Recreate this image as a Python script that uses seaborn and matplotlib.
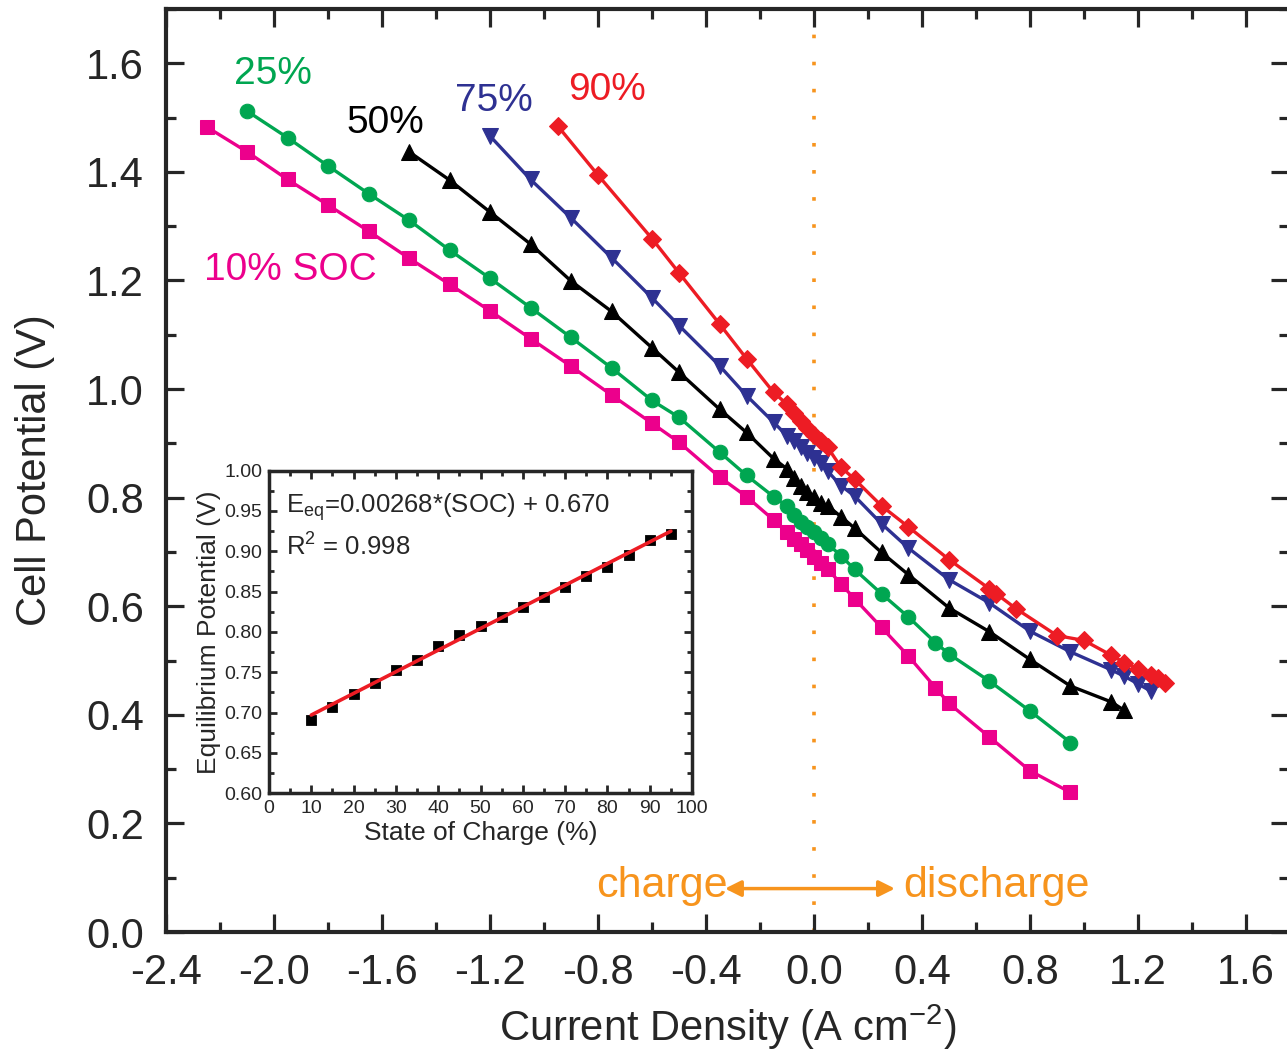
import matplotlib
matplotlib.use("Agg")
import matplotlib.pyplot as plt
from matplotlib.ticker import MultipleLocator, FormatStrFormatter
import seaborn as sns
import pandas as pd
import numpy as np

# polarization curves, current density (A cm-2) vs cell potential (V)
j_10 = [-2.25, -2.1, -1.95, -1.8, -1.65, -1.5, -1.35, -1.2, -1.05, -0.9, -0.75, -0.6, -0.5, -0.35, -0.25,
        -0.15, -0.1, -0.075, -0.05, -0.025, 0.0, 0.025, 0.05, 0.1, 0.15, 0.25, 0.35, 0.45, 0.5, 0.65, 0.8, 0.95]
v_10 = [1.483, 1.437, 1.386, 1.339, 1.291, 1.241, 1.193, 1.144, 1.093, 1.042, 0.989, 0.937, 0.902, 0.838, 0.802,
        0.759, 0.736, 0.724, 0.715, 0.703, 0.690, 0.680, 0.669, 0.641, 0.614, 0.561, 0.508, 0.450, 0.421, 0.359, 0.297, 0.257]

j_25 = [-2.1, -1.95, -1.8, -1.65, -1.5, -1.35, -1.2, -1.05, -0.9, -0.75, -0.6, -0.5, -0.35, -0.25, -0.15,
        -0.1, -0.075, -0.05, -0.025, 0.0, 0.025, 0.05, 0.1, 0.15, 0.25, 0.35, 0.45, 0.5, 0.65, 0.8, 0.95]
v_25 = [1.512, 1.463, 1.411, 1.360, 1.311, 1.256, 1.204, 1.150, 1.095, 1.039, 0.979, 0.948, 0.884, 0.841, 0.802,
        0.784, 0.768, 0.756, 0.746, 0.736, 0.725, 0.715, 0.693, 0.668, 0.623, 0.580, 0.533, 0.512, 0.462, 0.407, 0.349]

j_50 = [-1.5, -1.35, -1.2, -1.05, -0.9, -0.75, -0.6, -0.5, -0.35, -0.25, -0.15, -0.1, -0.075, -0.05,
        -0.025, 0.0, 0.025, 0.05, 0.1, 0.15, 0.25, 0.35, 0.5, 0.65, 0.8, 0.95, 1.1, 1.15]
v_50 = [1.437, 1.385, 1.326, 1.267, 1.199, 1.143, 1.076, 1.031, 0.963, 0.920, 0.872, 0.853, 0.837, 0.822,
        0.810, 0.801, 0.791, 0.785, 0.765, 0.744, 0.699, 0.658, 0.597, 0.553, 0.502, 0.453, 0.424, 0.408]

j_75 = [-1.2, -1.05, -0.9, -0.75, -0.6, -0.5, -0.35, -0.25, -0.15, -0.1, -0.075, -0.05, -0.025, 0.0,
        0.025, 0.05, 0.1, 0.15, 0.25, 0.35, 0.5, 0.65, 0.8, 0.95, 1.1, 1.15, 1.2, 1.25]
v_75 = [1.466, 1.386, 1.315, 1.242, 1.168, 1.117, 1.043, 0.988, 0.939, 0.914, 0.904, 0.893, 0.883, 0.873,
        0.863, 0.849, 0.822, 0.803, 0.752, 0.707, 0.649, 0.606, 0.554, 0.516, 0.483, 0.471, 0.457, 0.443]

j_90 = [-0.95, -0.8, -0.6, -0.5, -0.35, -0.25, -0.15, -0.1, -0.075, -0.05, -0.025, 0.0, 0.025, 0.05, 0.1,
        0.15, 0.25, 0.35, 0.5, 0.65, 0.675, 0.75, 0.9, 1.0, 1.1, 1.15, 1.2, 1.25, 1.275, 1.3]
v_90 = [1.485, 1.394, 1.277, 1.214, 1.120, 1.056, 0.994, 0.972, 0.956, 0.941, 0.928, 0.916, 0.905, 0.893, 0.856,
        0.834, 0.785, 0.746, 0.686, 0.632, 0.623, 0.595, 0.546, 0.537, 0.510, 0.496, 0.485, 0.473, 0.467, 0.459]

# inset: equilibrium potential vs SOC
soc = [10, 15, 20, 25, 30, 35, 40, 45, 50, 55, 60, 65, 70, 75, 80, 85, 90, 95]
e_eq = [0.691, 0.707, 0.723, 0.737, 0.753, 0.765, 0.782, 0.796, 0.807, 0.819, 0.831, 0.843, 0.856, 0.869,
        0.881, 0.895, 0.914, 0.921]
fit_soc = [10, 95]
fit_e = [0.697, 0.925]

series = [
    ("10% SOC", j_10, v_10, "#EC008C", "s", 10.5, (-2.26, 1.22)),
    ("25%", j_25, v_25, "#00A651", "o", 10.5, (-2.15, 1.58)),
    ("50%", j_50, v_50, "#000000", "^", 12, (-1.73, 1.49)),
    ("75%", j_75, v_75, "#2E3192", "v", 12, (-1.33, 1.53)),
    ("90%", j_90, v_90, "#ED1C24", "D", 9, (-0.91, 1.55)),
]
orange = "#F7941D"

sns.set_style("ticks")
plt.rcParams['font.family'] = ['Liberation Sans', 'DejaVu Sans']
plt.rcParams['mathtext.fontset'] = 'custom'
plt.rcParams['mathtext.rm'] = 'Liberation Sans'
plt.rcParams['mathtext.it'] = 'Liberation Sans'

fig = plt.figure(figsize=(12.87, 10.56), dpi=100)
ax = fig.add_axes([0.129, 0.1174, 0.8727, 0.8741])

for label, j, v, col, mk, ms, pos in series:
    df = pd.DataFrame({"j": j, "v": v})
    sns.lineplot(data=df, x="j", y="v", ax=ax, color=col, marker=mk, markersize=ms,
                 markeredgecolor=col, linewidth=2.4, sort=False, estimator=None)
    ax.text(pos[0], pos[1], label, color=col, fontsize=28, va="center", ha="left")

ax.axvline(0, color=orange, linestyle=(0, (1, 6.5)), linewidth=2.6, zorder=0)
ax.annotate("", xy=(-0.34, 0.08), xytext=(0.31, 0.08),
            arrowprops=dict(arrowstyle="<|-|>", color=orange, lw=2.5, mutation_scale=24))
ax.text(-0.32, 0.085, "charge", color=orange, fontsize=31, ha="right", va="center")
ax.text(0.33, 0.085, "discharge", color=orange, fontsize=31, ha="left", va="center")

ax.set_xlim(-2.4, 1.76)
ax.set_ylim(0, 1.7)
ax.xaxis.set_major_locator(MultipleLocator(0.4))
ax.xaxis.set_minor_locator(MultipleLocator(0.2))
ax.yaxis.set_major_locator(MultipleLocator(0.2))
ax.yaxis.set_minor_locator(MultipleLocator(0.1))
ax.xaxis.set_major_formatter(FormatStrFormatter("%.1f"))
ax.yaxis.set_major_formatter(FormatStrFormatter("%.1f"))
ax.tick_params(which="both", direction="in", top=True, right=True, width=2.3, labelsize=30)
ax.tick_params(which="major", length=13)
ax.tick_params(axis="x", which="major", pad=15)
ax.tick_params(axis="y", which="major", pad=16)
ax.tick_params(which="minor", length=7)
for s in ax.spines.values():
    s.set_linewidth(3)
ax.set_xlabel("Current Density (A cm$^{-2}$)", fontsize=30, labelpad=7)
ax.set_ylabel("Cell Potential (V)", fontsize=30, labelpad=22)

# inset
ins = fig.add_axes([0.209, 0.2488, 0.3287, 0.3055])
sns.scatterplot(x=soc, y=e_eq, ax=ins, color="black", marker="s", s=55, edgecolor="black", zorder=2)
sns.lineplot(x=fit_soc, y=fit_e, ax=ins, color="#ED1C24", linewidth=2.6, zorder=3)
ins.set_xlim(0, 100)
ins.set_ylim(0.6, 1.0)
ins.xaxis.set_major_locator(MultipleLocator(10))
ins.xaxis.set_minor_locator(MultipleLocator(5))
ins.yaxis.set_major_locator(MultipleLocator(0.05))
ins.yaxis.set_minor_locator(MultipleLocator(0.025))
ins.yaxis.set_major_formatter(FormatStrFormatter("%.2f"))
ins.tick_params(which="both", direction="in", top=True, right=True, width=2, labelsize=14, pad=5)
ins.tick_params(which="major", length=6)
ins.tick_params(which="minor", length=3.5)
for s in ins.spines.values():
    s.set_linewidth(2.5)
ins.set_xlabel("State of Charge (%)", fontsize=19, labelpad=3)
ins.set_ylabel("Equilibrium Potential (V)", fontsize=19, labelpad=2)
ins.text(4, 0.955, "E$_{\\mathrm{eq}}$=0.00268*(SOC) + 0.670", fontsize=18.5, va="center")
ins.text(4, 0.905, "R$^{2}$ = 0.998", fontsize=18.5, va="center")

fig.savefig("out.png", dpi=100)
